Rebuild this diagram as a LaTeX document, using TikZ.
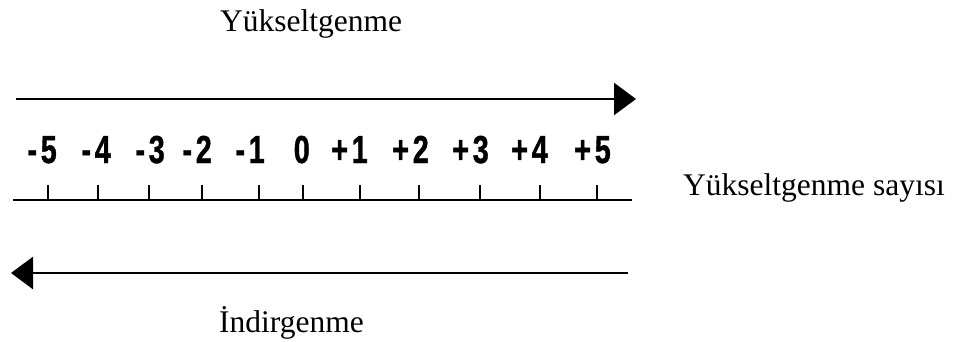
\documentclass[tikz,border=0pt]{standalone}
\usepackage{fontspec}
\setmainfont{Liberation Serif}
\newfontfamily\numfont{Liberation Sans}[BoldFeatures={FakeBold=1.2}]
\usetikzlibrary{arrows.meta}

% condensed bold sans label: sign, small gap, digit
\newcommand\oxlabel[2]{\scalebox{0.74}[1]{\numfont\bfseries #1\kern5pt#2}}

\tikzset{
  wordlabel/.style={inner sep=0pt, anchor=base west, font=\fontsize{31.5}{36}\selectfont},
  numlabel/.style={inner sep=0pt, anchor=base east, font=\fontsize{39}{42}\selectfont},
  arrowline/.style={line width=2.6pt, -{Triangle[length=22pt,width=32pt]}},
  axisline/.style={line width=2.4pt},
  tickmark/.style={line width=1.5pt},
}

\begin{document}
\begin{tikzpicture}[x=1pt, y=-1pt]
  \useasboundingbox (0,0) rectangle (955,342);

  % titles
  \node[wordlabel] (yuk) at (220,32) {Yükseltgenme};
  \node[wordlabel] (sayi) at (683,195) {Yükseltgenme sayısı};
  \node[wordlabel] (ind) at (219,332) {İndirgenme};

  % upper arrow (oxidation direction)
  \coordinate (upL) at (16,99);
  \coordinate (upR) at (636,99);
  \draw[arrowline] (upL) -- (upR);

  % lower arrow (reduction direction)
  \coordinate (loR) at (628,273);
  \coordinate (loL) at (11,273);
  \draw[arrowline] (loR) -- (loL);

  % number line
  \coordinate (axL) at (13,200);
  \coordinate (axR) at (632,200);
  \draw[axisline] (axL) -- (axR);

  % ticks and oxidation numbers
  \foreach \name/\tx/\dx/\sg/\dg in {
      m5/48/49/-/5, m4/98/103/-/4, m3/149/157/-/3, m2/202/204/-/2,
      m1/259/257/-/1, z0/303/302//0, p1/360/360/+/1, p2/419/421/+/2,
      p3/480/481/+/3, p4/540/540/+/4, p5/597/603/+/5} {
    \coordinate (t\name a) at (\tx,185);
    \coordinate (t\name b) at (\tx,200);
    \draw[tickmark] (t\name a) -- (t\name b);
    \node[numlabel] (n\name) at (\dx+8,163) {\oxlabel{\sg}{\dg}};
  }
\end{tikzpicture}
\end{document}
